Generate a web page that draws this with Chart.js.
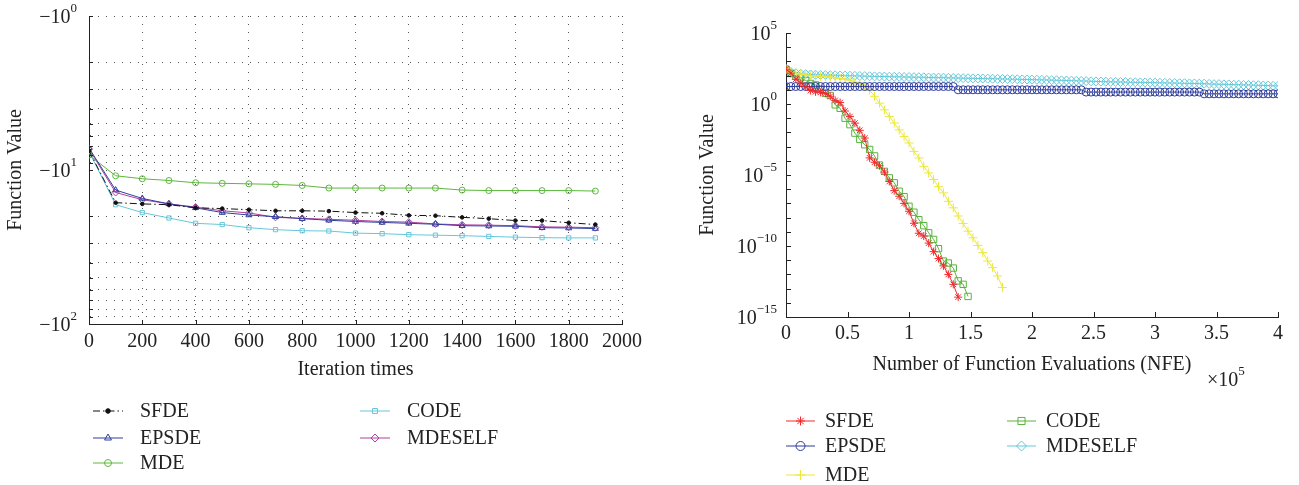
<!DOCTYPE html>
<html>
<head>
<meta charset="utf-8">
<script src="https://cdn.jsdelivr.net/npm/chart.js@4/dist/chart.umd.min.js"></script>
<style>
  html, body { margin: 0; padding: 0; background: #fff; }
  #wrap { position: relative; width: 1299px; height: 485px; }
  .box { position: absolute; top: 0; height: 485px; }
  #boxL { left: 0; width: 650px; }
  #boxR { left: 650px; width: 649px; }
</style>
</head>
<body>
<div id="wrap">
  <div class="box" id="boxL"><canvas id="leftChart"></canvas></div>
  <div class="box" id="boxR"><canvas id="rightChart"></canvas></div>
</div>
<script>
// ---- left panel: function value (negative) per iteration ----
var iterations = [0,100,200,300,400,500,600,700,800,900,1000,1100,1200,1300,1400,1500,1600,1700,1800,1900];
var sfdeIter    = [-7.5,-16.3,-16.6,-16.8,-17.6,-17.8,-18.1,-18.4,-18.4,-18.5,-18.9,-19.1,-19.7,-19.8,-20.3,-20.7,-21.3,-21.3,-22.0,-22.6];
var epsdeIter   = [-7.2,-13.5,-15.3,-16.6,-17.6,-18.9,-19.6,-20.1,-20.7,-21.2,-21.6,-21.9,-22.2,-22.5,-23.0,-23.1,-23.2,-23.7,-23.8,-24.0];
var mdeIter     = [-8.0,-10.9,-11.4,-11.7,-12.1,-12.2,-12.3,-12.4,-12.6,-13.1,-13.1,-13.1,-13.1,-13.1,-13.5,-13.6,-13.6,-13.6,-13.6,-13.7];
var codeIter    = [-7.6,-16.8,-18.9,-20.5,-22.2,-22.6,-23.7,-24.4,-24.8,-24.9,-25.7,-25.9,-26.3,-26.5,-26.7,-27.0,-27.3,-27.5,-27.6,-27.6];
var mdeselfIter = [-7.3,-14.0,-15.6,-16.6,-17.4,-18.4,-19.0,-20.3,-20.6,-20.9,-21.2,-21.6,-21.8,-22.4,-22.7,-22.8,-23.0,-23.4,-23.5,-23.7];
var leftYTicks = [1,2,3,4,5,6,7,8,9,10,20,30,40,50,60,70,80,90,100]; // magnitudes, shown as -10^k

// ---- right panel: function value per NFE (x10^5) ----
var nfeGrid = [0,0.04,0.08,0.12,0.16,0.2,0.24,0.28,0.32,0.36,0.4,0.44,0.48,0.52,0.56,0.6,0.64,0.68,0.72,0.76,
  0.8,0.84,0.88,0.92,0.96,1,1.04,1.08,1.12,1.16,1.2,1.24,1.28,1.32,1.36,1.4,1.44,1.48,1.52,1.56,
  1.6,1.64,1.68,1.72,1.76,1.8,1.84,1.88,1.92,1.96,2,2.04,2.08,2.12,2.16,2.2,2.24,2.28,2.32,2.36,
  2.4,2.44,2.48,2.52,2.56,2.6,2.64,2.68,2.72,2.76,2.8,2.84,2.88,2.92,2.96,3,3.04,3.08,3.12,3.16,
  3.2,3.24,3.28,3.32,3.36,3.4,3.44,3.48,3.52,3.56,3.6,3.64,3.68,3.72,3.76,3.8,3.84,3.88,3.92,3.96,4];
var sfdeNfe = [282,148,56,30,16,8.9,7.2,6.6,5.6,3.5,1.8,1.26,0.32,0.13,0.045,0.014,4.0e-3,1.6e-4,7.9e-5,4.5e-5,
  1.6e-5,3.5e-6,7.9e-7,3.2e-7,1.0e-7,2.8e-8,4.0e-9,7.9e-10,5.0e-10,1.6e-10,4.0e-11,1.3e-11,4.0e-12,1.0e-12,2.0e-13,2.5e-14];
var epsdeNfe = [17,17,17,17,17,17,17,17,17,17,17,17,17,17,17,17,17,17,17,17,17,17,17,17,17,17,17,17,17,17,17,17,17,17,17,
  10,10,10,10,10,10,10,10,10,10,10,10,10,10,10,10,10,10,10,10,10,10,10,10,10,10,
  6.9,6.9,6.9,6.9,6.9,6.9,6.9,6.9,6.9,6.9,6.9,6.9,6.9,6.9,6.9,6.9,6.9,6.9,6.9,6.9,6.9,6.9,6.9,6.9,
  5.2,5.2,5.2,5.2,5.2,5.2,5.2,5.2,5.2,5.2,5.2,5.2,5.2,5.2,5.2,5.2];
var mdeNfe = [282,178,141,126,112,100,95,89,83,79,71,63,56,48,35,26,18,9.5,3.5,1.15,
  0.39,0.13,0.046,0.015,5.2e-3,1.8e-3,4.6e-4,1.6e-4,4.1e-5,1.4e-5,4.8e-6,1.5e-6,5.5e-7,1.4e-7,4.9e-8,
  1.3e-8,3.9e-9,1.1e-9,3.8e-10,1.1e-10,3.4e-11,8.7e-12,3.0e-12,7.8e-13,1.2e-13];
var codeNfe = [282,141,89,71,45,28,22,11.2,5.6,4.0,0.87,0.5,0.1,0.035,8.9e-3,3.2e-3,1.35e-3,6.3e-4,2.2e-4,5.0e-5,
  1.8e-5,6.3e-6,2.8e-6,7.2e-7,3.0e-7,6.3e-8,2.4e-8,7.1e-9,2.7e-9,8.5e-10,2.9e-10,6.5e-11,8.7e-12,6.3e-12,2.8e-12,
  3.5e-13,2.0e-13,2.8e-14];
var mdeselfNfe = [295,178,148,135,126,120,115,112,110,107,105,102,100,98,96,94,92,90,88,87,
  86,84,83,82,80,79,78,77,76,74,73,72,71,70,68,67,66,65,64,63,
  62,61,60,59,58,57,56,55,54,53,52,51,50,49,48,47,46,45,44,43,
  42,41,40,39,38,37,36,36,35,35,34,34,33,33,32,32,31,31,30,30,
  29,29,28,28,27,27,26,25,25,24,24,23,23,22,22,21,21,20,20,19,19];
var rightYTicks = [1e5,1e4,1e3,1e2,1e1,1,1e-1,1e-2,1e-3,1e-4,1e-5,1e-6,1e-7,1e-8,1e-9,1e-10,1e-11,1e-12,1e-13,1e-14,1e-15];

var SERIF = "'Liberation Serif', 'DejaVu Serif', serif";
var TXT = '#222';

function pointsOf(vals) {
  return vals.map(function (v, i) { return { x: nfeGrid[i], y: v }; });
}

var drawMarker = (Chart.helpers && Chart.helpers.drawPoint) ? Chart.helpers.drawPoint : function (ctx, o, x, y) {
  ctx.beginPath(); ctx.arc(x, y, o.radius, 0, Math.PI * 2); ctx.stroke();
};

// legend laid out in columns below the plot
var columnLegend = {
  id: 'columnLegend',
  afterDraw: function (chart, args, opts) {
    var ctx = chart.ctx;
    ctx.save();
    opts.items.forEach(function (it) {
      var ds = chart.data.datasets[it.index];
      ctx.strokeStyle = ds.borderColor;
      ctx.lineWidth = ds.borderWidth;
      ctx.setLineDash(ds.borderDash || []);
      ctx.beginPath();
      ctx.moveTo(it.x, it.y);
      ctx.lineTo(it.x + opts.lineLength, it.y);
      ctx.stroke();
      ctx.setLineDash([]);
      ctx.fillStyle = ds.pointBackgroundColor;
      ctx.strokeStyle = ds.borderColor;
      ctx.lineWidth = ds.pointBorderWidth;
      drawMarker(ctx, { pointStyle: ds.pointStyle, radius: ds.pointRadius + 0.5, rotation: 0, borderWidth: ds.pointBorderWidth },
        it.x + opts.lineLength / 2, it.y);
      ctx.fillStyle = TXT;
      ctx.font = '20px ' + SERIF;
      ctx.textAlign = 'left';
      ctx.textBaseline = 'middle';
      ctx.fillText(ds.label, it.x + opts.lineLength + opts.gap, it.y + 1);
    });
    ctx.restore();
  }
};

// power-of-ten labels with superscripts, inward ticks, optional x note
var powerAxis = {
  id: 'powerAxis',
  afterDraw: function (chart, args, opts) {
    var ctx = chart.ctx, ca = chart.chartArea;
    var ys = chart.scales.y, xs = chart.scales.x;
    ctx.save();
    ctx.strokeStyle = TXT;
    ctx.lineWidth = 1;
    ys.ticks.forEach(function (t) {
      var py = Math.round(ys.getPixelForValue(t.value)) + 0.5;
      ctx.beginPath(); ctx.moveTo(ca.left, py); ctx.lineTo(ca.left + opts.tickLen, py); ctx.stroke();
    });
    xs.ticks.forEach(function (t) {
      var px = Math.round(xs.getPixelForValue(t.value)) + 0.5;
      ctx.beginPath(); ctx.moveTo(px, ca.bottom); ctx.lineTo(px, ca.bottom - opts.tickLen); ctx.stroke();
    });
    ctx.fillStyle = TXT;
    ctx.textAlign = 'left';
    ctx.textBaseline = 'middle';
    ys.ticks.forEach(function (t) {
      var lg = Math.log10(t.value), e = Math.round(lg);
      if (Math.abs(lg - e) > 1e-6 || e % opts.every !== 0) return;
      var py = ys.getPixelForValue(t.value);
      var exp = String(e).replace('-', '\u2212');
      ctx.font = '20px ' + SERIF;
      var wb = ctx.measureText(opts.base).width;
      ctx.font = '13px ' + SERIF;
      var we = ctx.measureText(exp).width;
      var xr = ca.left - opts.gap;
      ctx.font = '20px ' + SERIF;
      ctx.fillText(opts.base, xr - we - wb, py + 2);
      ctx.font = '13px ' + SERIF;
      ctx.fillText(exp, xr - we, py - 7);
    });
    if (opts.note) {
      ctx.font = '20px ' + SERIF;
      ctx.fillText(opts.note.text, opts.note.x, opts.note.y);
      var w = ctx.measureText(opts.note.text).width;
      ctx.font = '13px ' + SERIF;
      ctx.fillText(opts.note.exp, opts.note.x + w, opts.note.y - 9);
    }
    ctx.restore();
  }
};

function lineSet(label, color, vals, style, radius, extra) {
  var ds = {
    label: label, data: vals, borderColor: color, backgroundColor: color,
    borderWidth: 1, pointStyle: style, pointRadius: radius, pointBorderColor: color,
    pointBackgroundColor: 'rgba(255,255,255,0)', pointBorderWidth: 1, tension: 0, fill: false
  };
  for (var k in extra) ds[k] = extra[k];
  return ds;
}

document.addEventListener('DOMContentLoaded', function () {
  var mag = function (arr) { return arr.map(function (v) { return -v; }); };

  new Chart(document.getElementById('leftChart').getContext('2d'), {
    type: 'line',
    data: {
      labels: iterations,
      datasets: [
        lineSet('SFDE', '#111111', mag(sfdeIter), 'circle', 1.8, { borderDash: [7, 3, 1.5, 3], pointBackgroundColor: '#111111' }),
        lineSet('EPSDE', '#2f3f9f', mag(epsdeIter), 'triangle', 3.5, {}),
        lineSet('MDE', '#5cb83c', mag(mdeIter), 'circle', 3, {}),
        lineSet('CODE', '#66c7da', mag(codeIter), 'rect', 3, {}),
        lineSet('MDESELF', '#b0409f', mag(mdeselfIter), 'rectRot', 3.5, {})
      ]
    },
    options: {
      responsive: true, maintainAspectRatio: false, animation: false,
      layout: { padding: { top: 16, right: 28, bottom: 99, left: 0 } },
      scales: {
        x: {
          type: 'linear', min: 0, max: 2000,
          afterFit: function (s) { s.height = 62; },
          ticks: { stepSize: 200, padding: 6, color: TXT, font: { family: SERIF, size: 20 }, autoSkip: false,
            callback: function (v) { return String(v); } },
          grid: { color: '#555', drawTicks: false },
          border: { color: TXT, dash: [1, 7] },
          title: { display: true, text: 'Iteration times', color: TXT, font: { family: SERIF, size: 20 } }
        },
        y: {
          type: 'logarithmic', min: 1, max: 100, reverse: true,
          afterFit: function (s) { s.width = 89; },
          afterBuildTicks: function (s) { s.ticks = leftYTicks.map(function (v) { return { value: v }; }); },
          ticks: { display: false },
          grid: { color: '#555', drawTicks: false },
          border: { color: TXT, dash: [1, 7] },
          title: { display: true, text: 'Function Value', color: TXT, font: { family: SERIF, size: 20 } }
        }
      },
      plugins: {
        legend: { display: false }, tooltip: { enabled: false },
        powerAxis: { base: '\u221210', every: 1, gap: 12, tickLen: 4 },
        columnLegend: {
          lineLength: 30, gap: 17,
          items: [
            { index: 0, x: 93, y: 411 }, { index: 1, x: 93, y: 438 }, { index: 2, x: 93, y: 463 },
            { index: 3, x: 360, y: 411 }, { index: 4, x: 360, y: 438 }
          ]
        }
      }
    },
    plugins: [powerAxis, columnLegend]
  });

  new Chart(document.getElementById('rightChart').getContext('2d'), {
    type: 'line',
    data: {
      datasets: [
        lineSet('SFDE', '#f02a2e', pointsOf(sfdeNfe), 'star', 4, {}),
        lineSet('EPSDE', '#2e3c9c', pointsOf(epsdeNfe), 'circle', 4, {}),
        lineSet('MDE', '#ebe83a', pointsOf(mdeNfe), 'cross', 4.5, {}),
        lineSet('CODE', '#58b43c', pointsOf(codeNfe), 'rect', 4.5, {}),
        lineSet('MDESELF', '#64c8d8', pointsOf(mdeselfNfe), 'rectRot', 4.5, {})
      ]
    },
    options: {
      responsive: true, maintainAspectRatio: false, animation: false,
      layout: { padding: { top: 33, right: 21, bottom: 104, left: 40 } },
      scales: {
        x: {
          type: 'linear', min: 0, max: 4,
          afterFit: function (s) { s.height = 64; },
          ticks: { stepSize: 0.5, padding: 5, color: TXT, font: { family: SERIF, size: 20 }, autoSkip: false,
            callback: function (v) { return String(Math.round(v * 10) / 10); } },
          grid: { display: false, drawTicks: false },
          border: { color: TXT },
          title: { display: true, text: 'Number of Function Evaluations (NFE)', color: TXT, font: { family: SERIF, size: 20 } }
        },
        y: {
          type: 'logarithmic', min: 1e-15, max: 1e5,
          afterFit: function (s) { s.width = 96; },
          afterBuildTicks: function (s) { s.ticks = rightYTicks.map(function (v) { return { value: v }; }); },
          ticks: { display: false },
          grid: { display: false, drawTicks: false },
          border: { color: TXT },
          title: { display: true, text: 'Function Value', color: TXT, font: { family: SERIF, size: 20 }, padding: { top: 6, bottom: 4 } }
        }
      },
      plugins: {
        legend: { display: false }, tooltip: { enabled: false },
        powerAxis: { base: '10', every: 5, gap: 9, tickLen: 5, note: { text: '\u00d710', exp: '5', x: 557, y: 381 } },
        columnLegend: {
          lineLength: 29, gap: 10,
          items: [
            { index: 0, x: 136, y: 421 }, { index: 1, x: 136, y: 446 }, { index: 2, x: 136, y: 475 },
            { index: 3, x: 357, y: 421 }, { index: 4, x: 357, y: 446 }
          ]
        }
      }
    },
    plugins: [powerAxis, columnLegend]
  });
});
</script>
</body>
</html>
